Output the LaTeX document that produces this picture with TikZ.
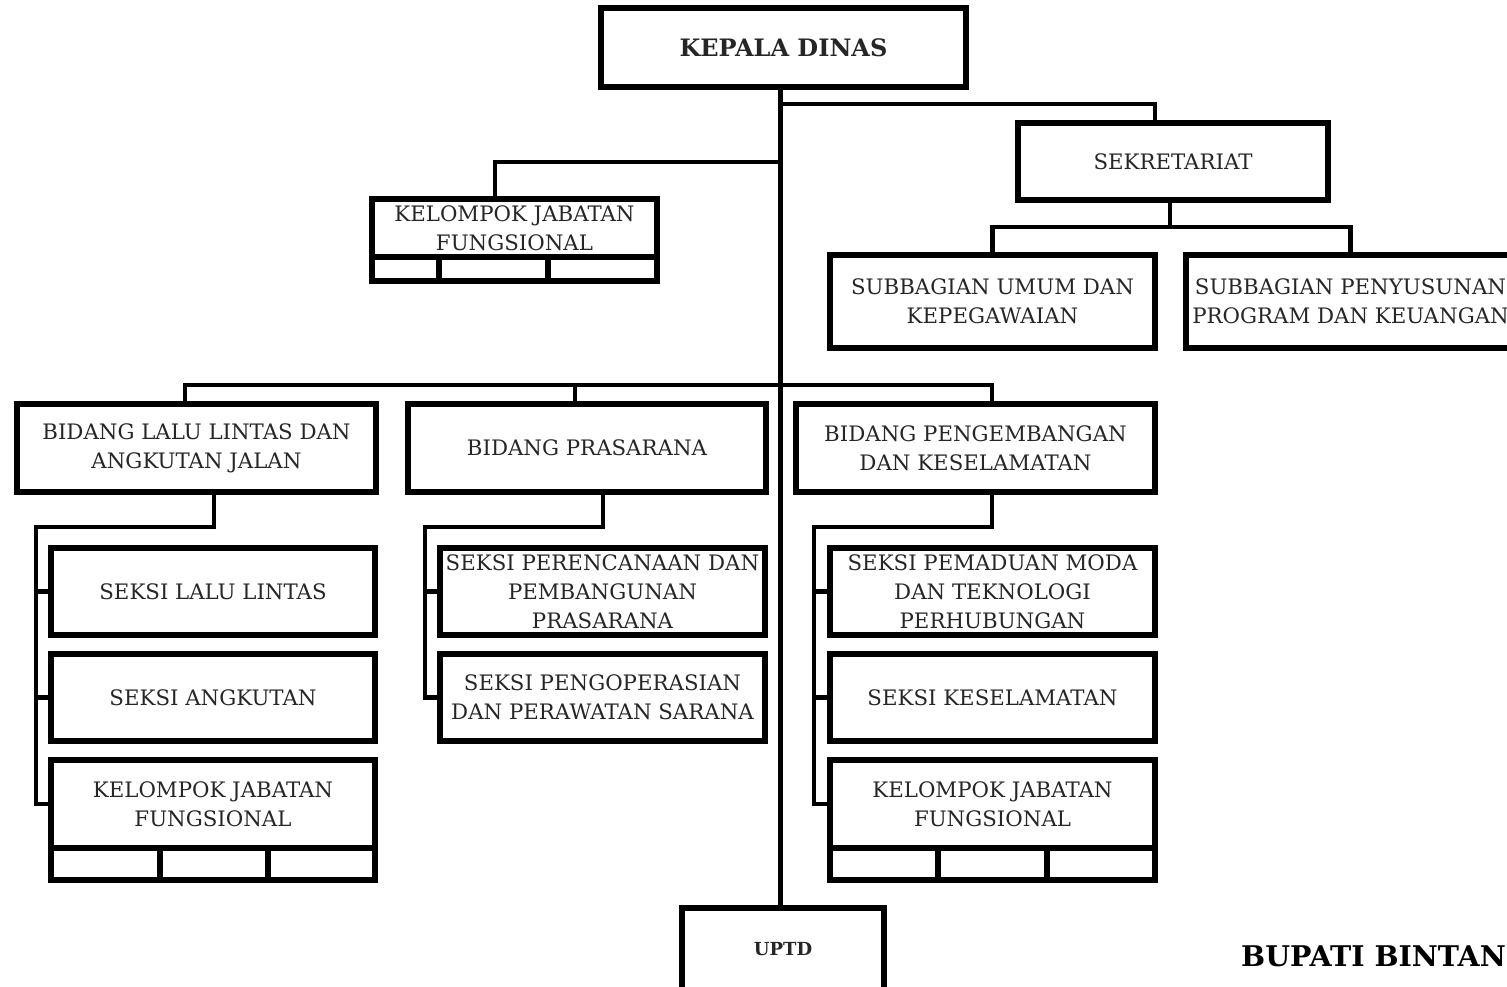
\documentclass[tikz,border=0pt]{standalone}
\usepackage{fontspec}
\setmainfont{DejaVu Serif}
\usetikzlibrary{calc}
\tikzset{
  box/.style={draw, line width=5.5pt, inner sep=0pt, align=center, text=black!85,
    font=\fontsize{21.3}{29}\selectfont},
  cell/.style={draw, line width=5.5pt, inner sep=0pt},
  conn/.style={line width=4.5pt},
  headtext/.style={font=\fontsize{24}{28}\selectfont\bfseries},
}
\begin{document}
\begin{tikzpicture}[x=1pt,y=-1pt]
\useasboundingbox (0,0) rectangle (1507,986);
\begin{scope}
\clip (0,0) rectangle (1507,986);

% head and staff units
\node[box, headtext, minimum width=365pt, minimum height=79pt] (kd) at (783.5,47.5) {KEPALA DINAS};
\node[box, minimum width=310pt, minimum height=77pt] (sek) at (1173,161.5) {SEKRETARIAT};
\node[box, minimum width=325pt, minimum height=93pt] (sub1) at (992.5,301.5) {SUBBAGIAN UMUM DAN\\KEPEGAWAIAN};
\node[box, minimum width=329pt, minimum height=93pt] (sub2) at (1350.5,301.5) {SUBBAGIAN PENYUSUNAN\\PROGRAM DAN KEUANGAN};

% functional group under the head
\node[box, minimum width=285pt, minimum height=58pt] (kjf) at (514.5,228) {KELOMPOK JABATAN\\FUNGSIONAL};
\node[cell, minimum width=67pt, minimum height=24pt] (kjfa) at (405.5,269) {};
\node[cell, minimum width=109pt, minimum height=24pt] (kjfb) at (493.5,269) {};
\node[cell, minimum width=109pt, minimum height=24pt] (kjfc) at (602.5,269) {};

% fields
\node[box, minimum width=359pt, minimum height=88pt] (b1) at (196.5,448) {BIDANG LALU LINTAS DAN\\ANGKUTAN JALAN};
\node[box, minimum width=358pt, minimum height=88pt] (b2) at (587,448) {BIDANG PRASARANA};
\node[box, minimum width=359pt, minimum height=88pt] (b3) at (975.5,448) {BIDANG PENGEMBANGAN\\DAN KESELAMATAN};

% sections of the first field
\node[box, minimum width=324pt, minimum height=87pt] (s11) at (213,591.5) {SEKSI LALU LINTAS};
\node[box, minimum width=324pt, minimum height=87pt] (s12) at (213,697.5) {SEKSI ANGKUTAN};
\node[box, minimum width=324pt, minimum height=88pt] (kj1) at (213,804) {KELOMPOK JABATAN\\FUNGSIONAL};
\node[cell, minimum width=109pt, minimum height=32pt] (kj1a) at (105.5,864) {};
\node[cell, minimum width=108pt, minimum height=32pt] (kj1b) at (214,864) {};
\node[cell, minimum width=107pt, minimum height=32pt] (kj1c) at (321.5,864) {};

% sections of the second field
\node[box, minimum width=325pt, minimum height=87pt] (s21) at (602.5,591.5) {SEKSI PERENCANAAN DAN\\PEMBANGUNAN\\PRASARANA};
\node[box, minimum width=325pt, minimum height=87pt] (s22) at (602.5,697.5) {SEKSI PENGOPERASIAN\\DAN PERAWATAN SARANA};

% sections of the third field
\node[box, minimum width=325pt, minimum height=87pt] (s31) at (992.5,591.5) {SEKSI PEMADUAN MODA\\DAN TEKNOLOGI\\PERHUBUNGAN};
\node[box, minimum width=325pt, minimum height=87pt] (s32) at (992.5,697.5) {SEKSI KESELAMATAN};
\node[box, minimum width=325pt, minimum height=88pt] (kj3) at (992.5,804) {KELOMPOK JABATAN\\FUNGSIONAL};
\node[cell, minimum width=108pt, minimum height=32pt] (kj3a) at (884,864) {};
\node[cell, minimum width=109pt, minimum height=32pt] (kj3b) at (992.5,864) {};
\node[cell, minimum width=108pt, minimum height=32pt] (kj3c) at (1101,864) {};

% technical unit
\node[box, font=\fontsize{18}{20}\selectfont\bfseries, minimum width=202pt, minimum height=82pt] (uptd) at (783,949) {UPTD};

% row levels of the connectors
\coordinate (r104) at (0,104);
\coordinate (r162) at (0,162);
\coordinate (r227) at (0,227);
\coordinate (r385) at (0,385);
\coordinate (r527) at (0,527);

% main trunk
\coordinate (kdb) at ([xshift=-3pt]kd.south);
\draw[conn] (kdb) -- (kdb |- uptd.north);

% to the secretariat and its subdivisions
\coordinate (sekt) at ([xshift=-18pt]sek.north);
\draw[conn] (kdb |- r104) -| (sekt);
\coordinate (sekb) at ([xshift=-3pt]sek.south);
\draw[conn] (sekb) -- (sekb |- r227);
\draw[conn] (sub1.north) |- (sub2.north |- r227) -- (sub2.north);

% to the functional group
\coordinate (kjft) at ([xshift=-19.5pt]kjf.north);
\draw[conn] (kdb |- r162) -| (kjft);

% to the fields
\coordinate (b1t) at ([xshift=-11.5pt]b1.north);
\coordinate (b2t) at ([xshift=-12pt]b2.north);
\coordinate (b3t) at ([xshift=16.5pt]b3.north);
\draw[conn] (b1t) |- (b3t |- r385) -- (b3t);
\draw[conn] (b2t) -- (b2t |- r385);

% first field to its sections
\coordinate (b1b) at ([xshift=17.5pt]b1.south);
\coordinate (c1) at (36,527);
\draw[conn] (b1b) |- (c1) -- (c1 |- kj1.west) -- (kj1.west);
\draw[conn] (c1 |- s11.west) -- (s11.west);
\draw[conn] (c1 |- s12.west) -- (s12.west);

% second field to its sections
\coordinate (b2b) at ([xshift=16pt]b2.south);
\coordinate (c2) at (425,527);
\draw[conn] (b2b) |- (c2) -- (c2 |- s22.west) -- (s22.west);
\draw[conn] (c2 |- s21.west) -- (s21.west);

% third field to its sections
\coordinate (b3b) at ([xshift=16.5pt]b3.south);
\coordinate (c3) at (814,527);
\draw[conn] (b3b) |- (c3) -- (c3 |- kj3.west) -- (kj3.west);
\draw[conn] (c3 |- s31.west) -- (s31.west);
\draw[conn] (c3 |- s32.west) -- (s32.west);
\end{scope}

\node[font=\fontsize{28.5}{32}\selectfont\bfseries, anchor=east, inner sep=1pt] (bupati) at (1507,956) {BUPATI BINTAN};
\end{tikzpicture}
\end{document}
